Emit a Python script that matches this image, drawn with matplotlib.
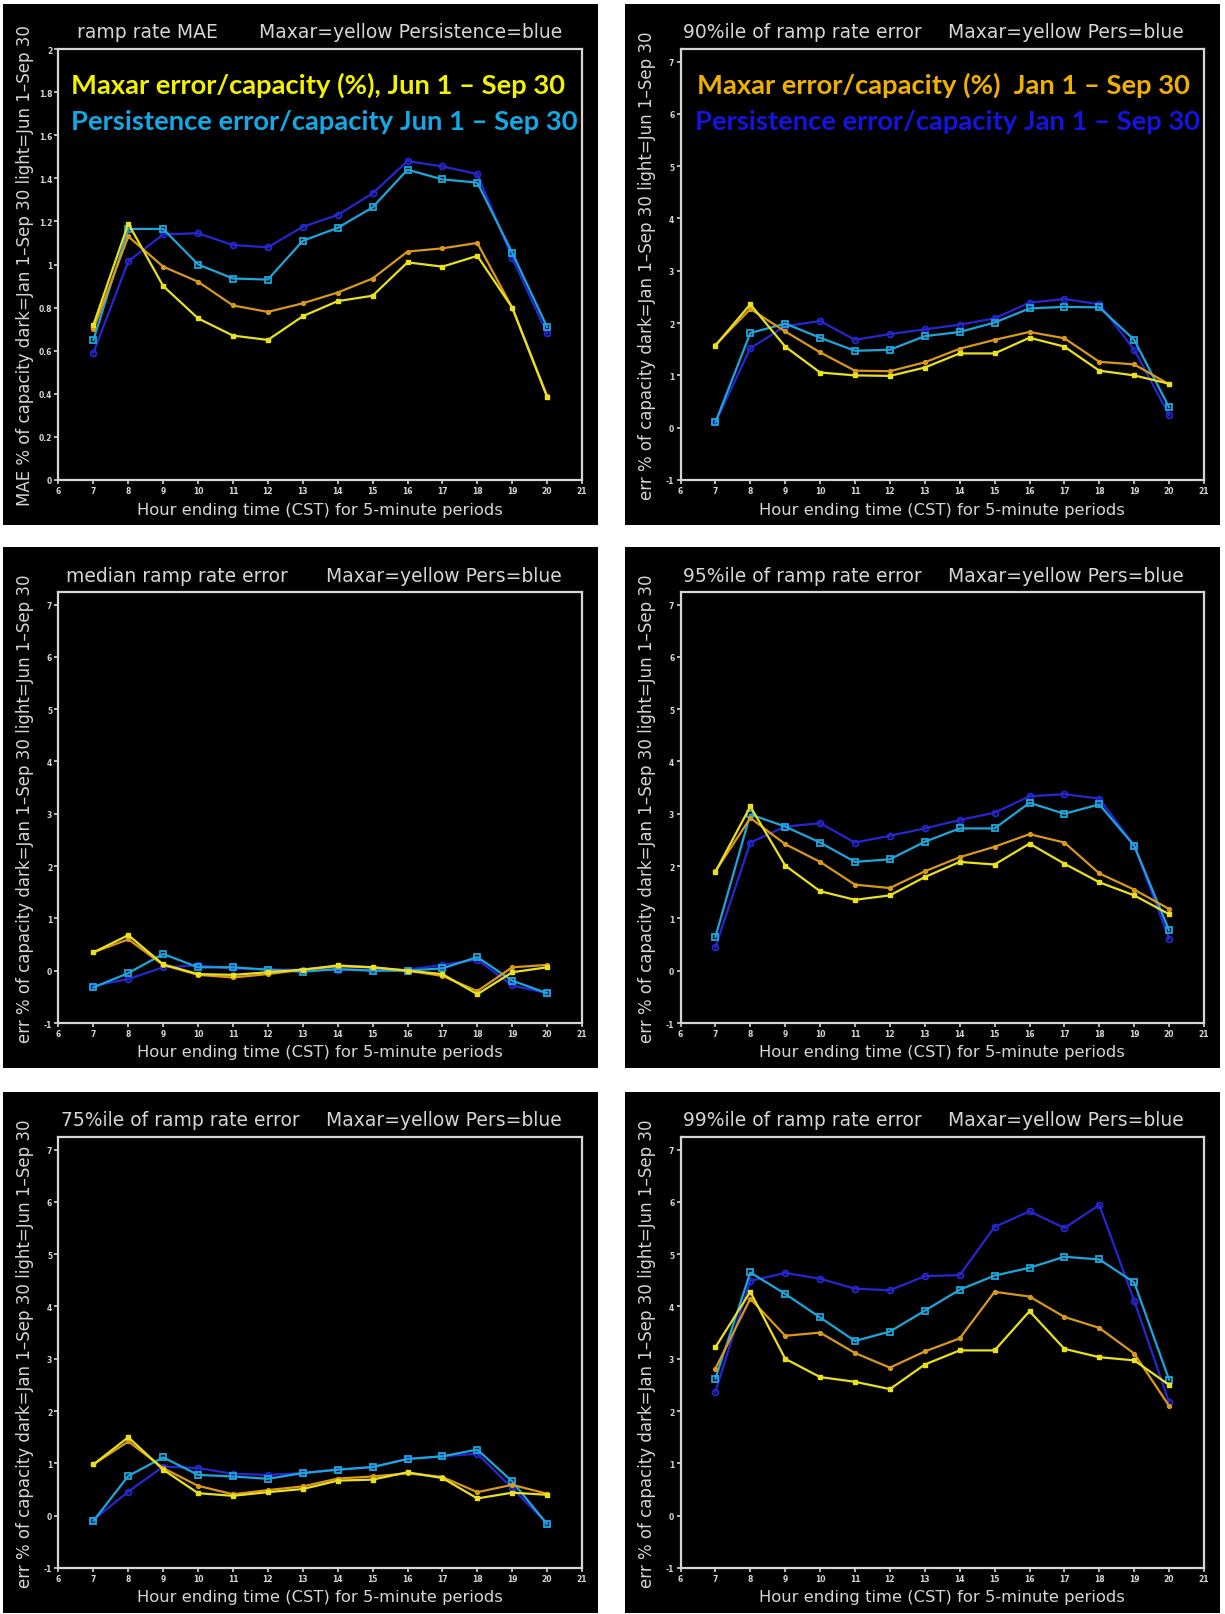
import matplotlib
matplotlib.use("Agg")
import matplotlib.pyplot as plt
from matplotlib.patches import Rectangle

# ---------------------------------------------------------------- data
hours = [7, 8, 9, 10, 11, 12, 13, 14, 15, 16, 17, 18, 19, 20]
x_ticks = list(range(6, 22))

# ramp rate MAE (% of capacity)
mae_maxar_light = [0.72, 1.19, 0.90, 0.75, 0.67, 0.65, 0.76, 0.83, 0.855, 1.01, 0.99, 1.04, 0.80, 0.385]
mae_maxar_dark = [0.70, 1.13, 0.99, 0.92, 0.81, 0.78, 0.82, 0.87, 0.935, 1.06, 1.075, 1.10, 0.80, 0.39]
mae_pers_light = [0.65, 1.165, 1.165, 1.00, 0.935, 0.93, 1.11, 1.17, 1.265, 1.44, 1.395, 1.38, 1.055, 0.71]
mae_pers_dark = [0.59, 1.015, 1.14, 1.145, 1.09, 1.08, 1.175, 1.23, 1.33, 1.48, 1.455, 1.42, 1.03, 0.68]

# 90th percentile of ramp rate error
p90_maxar_light = [1.57, 2.36, 1.55, 1.055, 1.00, 0.99, 1.15, 1.42, 1.42, 1.72, 1.55, 1.09, 1.00, 0.84]
p90_maxar_dark = [1.58, 2.27, 1.84, 1.44, 1.09, 1.08, 1.25, 1.51, 1.68, 1.83, 1.71, 1.26, 1.21, 0.83]
p90_pers_light = [0.10, 1.81, 1.99, 1.72, 1.47, 1.49, 1.75, 1.83, 2.01, 2.28, 2.31, 2.30, 1.68, 0.39]
p90_pers_dark = [0.10, 1.52, 1.94, 2.04, 1.68, 1.79, 1.88, 1.97, 2.09, 2.39, 2.46, 2.36, 1.49, 0.24]

# median ramp rate error
med_maxar_light = [0.35, 0.68, 0.12, -0.065, -0.08, -0.03, 0.02, 0.10, 0.065, 0.00, -0.065, -0.45, -0.03, 0.065]
med_maxar_dark = [0.35, 0.60, 0.11, -0.08, -0.13, -0.065, 0.02, 0.085, 0.065, 0.00, -0.10, -0.39, 0.065, 0.11]
med_pers_light = [-0.32, -0.045, 0.32, 0.065, 0.065, 0.02, -0.02, 0.03, 0.00, 0.00, 0.045, 0.26, -0.19, -0.43]
med_pers_dark = [-0.29, -0.16, 0.065, 0.10, 0.045, 0.02, 0.02, 0.02, 0.02, 0.02, 0.11, 0.21, -0.28, -0.43]

# 95th percentile of ramp rate error
p95_maxar_light = [1.89, 3.14, 2.01, 1.52, 1.355, 1.44, 1.79, 2.08, 2.03, 2.43, 2.045, 1.69, 1.44, 1.08]
p95_maxar_dark = [1.90, 2.92, 2.42, 2.08, 1.645, 1.58, 1.90, 2.17, 2.37, 2.61, 2.45, 1.86, 1.55, 1.18]
p95_pers_light = [0.645, 2.99, 2.755, 2.45, 2.08, 2.13, 2.465, 2.72, 2.72, 3.21, 3.00, 3.18, 2.39, 0.77]
p95_pers_dark = [0.45, 2.45, 2.755, 2.82, 2.45, 2.58, 2.72, 2.88, 3.02, 3.335, 3.375, 3.29, 2.39, 0.61]

# 75th percentile of ramp rate error
p75_maxar_light = [0.98, 1.50, 0.88, 0.43, 0.38, 0.45, 0.51, 0.67, 0.69, 0.83, 0.72, 0.33, 0.44, 0.40]
p75_maxar_dark = [0.98, 1.42, 0.91, 0.57, 0.41, 0.49, 0.56, 0.71, 0.75, 0.81, 0.74, 0.45, 0.59, 0.42]
p75_pers_light = [-0.10, 0.76, 1.115, 0.78, 0.75, 0.705, 0.815, 0.88, 0.93, 1.085, 1.135, 1.265, 0.655, -0.16]
p75_pers_dark = [-0.08, 0.46, 0.94, 0.91, 0.80, 0.78, 0.815, 0.88, 0.93, 1.085, 1.135, 1.185, 0.525, -0.15]

# 99th percentile of ramp rate error
p99_maxar_light = [3.22, 4.28, 3.00, 2.65, 2.56, 2.42, 2.89, 3.16, 3.16, 3.91, 3.19, 3.03, 2.97, 2.50]
p99_maxar_dark = [2.81, 4.15, 3.44, 3.50, 3.11, 2.83, 3.14, 3.39, 4.28, 4.19, 3.80, 3.59, 3.10, 2.10]
p99_pers_light = [2.62, 4.65, 4.24, 3.79, 3.34, 3.52, 3.92, 4.32, 4.59, 4.74, 4.95, 4.90, 4.46, 2.60]
p99_pers_dark = [2.37, 4.49, 4.64, 4.53, 4.34, 4.31, 4.58, 4.60, 5.52, 5.82, 5.50, 5.94, 4.11, 2.17]

mae_ticks = [0, 0.2, 0.4, 0.6, 0.8, 1, 1.2, 1.4, 1.6, 1.8, 2]
err_ticks = [-1, 0, 1, 2, 3, 4, 5, 6, 7]

# ---------------------------------------------------------------- style
W, H, DPI = 1225, 1615, 100
FG = "#d6d6d6"
C_MAXAR_LIGHT = "#e8e020"
C_MAXAR_DARK = "#d8981c"
C_PERS_LIGHT = "#1ea6dc"
C_PERS_DARK = "#2626d2"

fig = plt.figure(figsize=(W / DPI, H / DPI), dpi=DPI, facecolor="white")
renderer = fig.canvas.get_renderer()


def fx(px):
    return px / W


def fy(py):
    return 1 - py / H


def fitted_size(text, width_px, **kw):
    t = fig.text(0, 0, text, fontsize=20, **kw)
    w = t.get_window_extent(renderer).width
    t.remove()
    return 20 * width_px / w


TITLE_FS = fitted_size("Maxar=yellow Pers=blue", 236)
XLAB_FS = fitted_size("Hour ending time (CST) for 5-minute periods", 367)
YLAB_FS = fitted_size("MAE % of capacity dark=Jan 1\u2013Sep 30 light=Jun 1\u2013Sep 30", 483)

col_x0 = [3, 625]
row_y0 = [5, 548, 1093]
PANEL_W, PANEL_H = 595, 521
AX_L, AX_T, AX_W, AX_H = 55.5, 45, 523.5, 431

panels = [
    # (row, col, left title, left title x-offset, right title, ylabel prefix, series, ylim, yticks)
    (0, 0, "ramp rate MAE", 74, "Maxar=yellow Persistence=blue", "MAE",
     (mae_maxar_dark, mae_maxar_light, mae_pers_dark, mae_pers_light), (0, 2), mae_ticks),
    (0, 1, "90%ile of ramp rate error", 58, "Maxar=yellow Pers=blue", "err",
     (p90_maxar_dark, p90_maxar_light, p90_pers_dark, p90_pers_light), (-1, 7.24), err_ticks),
    (1, 0, "median ramp rate error", 63, "Maxar=yellow Pers=blue", "err",
     (med_maxar_dark, med_maxar_light, med_pers_dark, med_pers_light), (-1, 7.24), err_ticks),
    (1, 1, "95%ile of ramp rate error", 58, "Maxar=yellow Pers=blue", "err",
     (p95_maxar_dark, p95_maxar_light, p95_pers_dark, p95_pers_light), (-1, 7.24), err_ticks),
    (2, 0, "75%ile of ramp rate error", 58, "Maxar=yellow Pers=blue", "err",
     (p75_maxar_dark, p75_maxar_light, p75_pers_dark, p75_pers_light), (-1, 7.24), err_ticks),
    (2, 1, "99%ile of ramp rate error", 58, "Maxar=yellow Pers=blue", "err",
     (p99_maxar_dark, p99_maxar_light, p99_pers_dark, p99_pers_light), (-1, 7.24), err_ticks),
]

for row, col, ltitle, lx, rtitle, yprefix, series, ylim, yticks in panels:
    px0, py0 = col_x0[col], row_y0[row]
    ph = min(PANEL_H, H - py0)
    # black panel background, kept underneath the axes
    fig.patches.append(Rectangle((fx(px0), fy(py0 + ph)), PANEL_W / W, ph / H,
                                 transform=fig.transFigure, facecolor="black",
                                 edgecolor="none", zorder=-5))
    ax = fig.add_axes([fx(px0 + AX_L), fy(py0 + AX_T + AX_H), AX_W / W, AX_H / H])
    ax.set_zorder(2)
    ax.set_facecolor("black")
    for s in ax.spines.values():
        s.set_color(FG)
        s.set_linewidth(1.6)

    m_dark, m_light, p_dark, p_light = series
    ax.plot(hours, p_dark, color=C_PERS_DARK, lw=1.6, marker="o", ms=4.2,
            mfc="none", mec=C_PERS_DARK, mew=1.3, zorder=3)
    ax.plot(hours, p_light, color=C_PERS_LIGHT, lw=1.6, marker="s", ms=4.2,
            mfc="none", mec=C_PERS_LIGHT, mew=1.3, zorder=4)
    ax.plot(hours, m_dark, color=C_MAXAR_DARK, lw=1.6, marker="o", ms=2.8,
            mfc=C_MAXAR_DARK, mec=C_MAXAR_DARK, zorder=5)
    ax.plot(hours, m_light, color=C_MAXAR_LIGHT, lw=1.6, marker="s", ms=2.6,
            mfc=C_MAXAR_LIGHT, mec=C_MAXAR_LIGHT, zorder=6)

    ax.set_xlim(6, 21)
    ax.set_ylim(*ylim)
    ax.set_xticks(x_ticks)
    ax.set_xticklabels([str(v) for v in x_ticks])
    ax.set_yticks(yticks)
    ax.set_yticklabels([f"{v:g}" for v in yticks])
    ax.tick_params(colors=FG, labelcolor=FG, length=3, width=1.2, pad=1.5,
                   labelsize=5.5, direction="out")
    for lab in ax.get_xticklabels() + ax.get_yticklabels():
        lab.set_fontweight("bold")

    # titles
    fig.text(fx(px0 + lx), fy(py0 + 28), ltitle, color=FG, fontsize=TITLE_FS,
             ha="left", va="center", zorder=10)
    fig.text(fx(px0 + AX_L + AX_W - 20), fy(py0 + 28), rtitle, color=FG,
             fontsize=TITLE_FS, ha="right", va="center", zorder=10)
    # axis labels
    fig.text(fx(px0 + AX_L + AX_W / 2), fy(py0 + 505),
             "Hour ending time (CST) for 5-minute periods", color=FG,
             fontsize=XLAB_FS, ha="center", va="center", zorder=10)
    fig.text(fx(px0 + 22), fy(py0 + AX_T + AX_H / 2),
             f"{yprefix} % of capacity dark=Jan 1\u2013Sep 30 light=Jun 1\u2013Sep 30",
             color=FG, fontsize=YLAB_FS, rotation=90, ha="center", va="center", zorder=10)

# ---------------------------------------------------------------- legends
LEG_KW = dict(family="Lato", fontweight="bold")
leg1a = "Maxar error/capacity (%), Jun 1 \u2013 Sep 30"
leg1b = "Persistence error/capacity Jun 1 \u2013 Sep 30"
leg2a = "Maxar error/capacity (%)  Jan 1 \u2013 Sep 30"
leg2b = "Persistence error/capacity Jan 1 \u2013 Sep 30"
LEG_FS = fitted_size(leg1b, 507, **LEG_KW)

for x, y, txt, c in [(71, 85, leg1a, "#f2f200"), (71, 122, leg1b, "#12aae6"),
                     (697, 85, leg2a, "#f0b000"), (695, 122, leg2b, "#1414e0")]:
    fig.text(fx(x), fy(y), txt, color=c, fontsize=LEG_FS, ha="left", va="center",
             zorder=10, **LEG_KW)

fig.savefig("out.png", dpi=DPI, facecolor="white")
